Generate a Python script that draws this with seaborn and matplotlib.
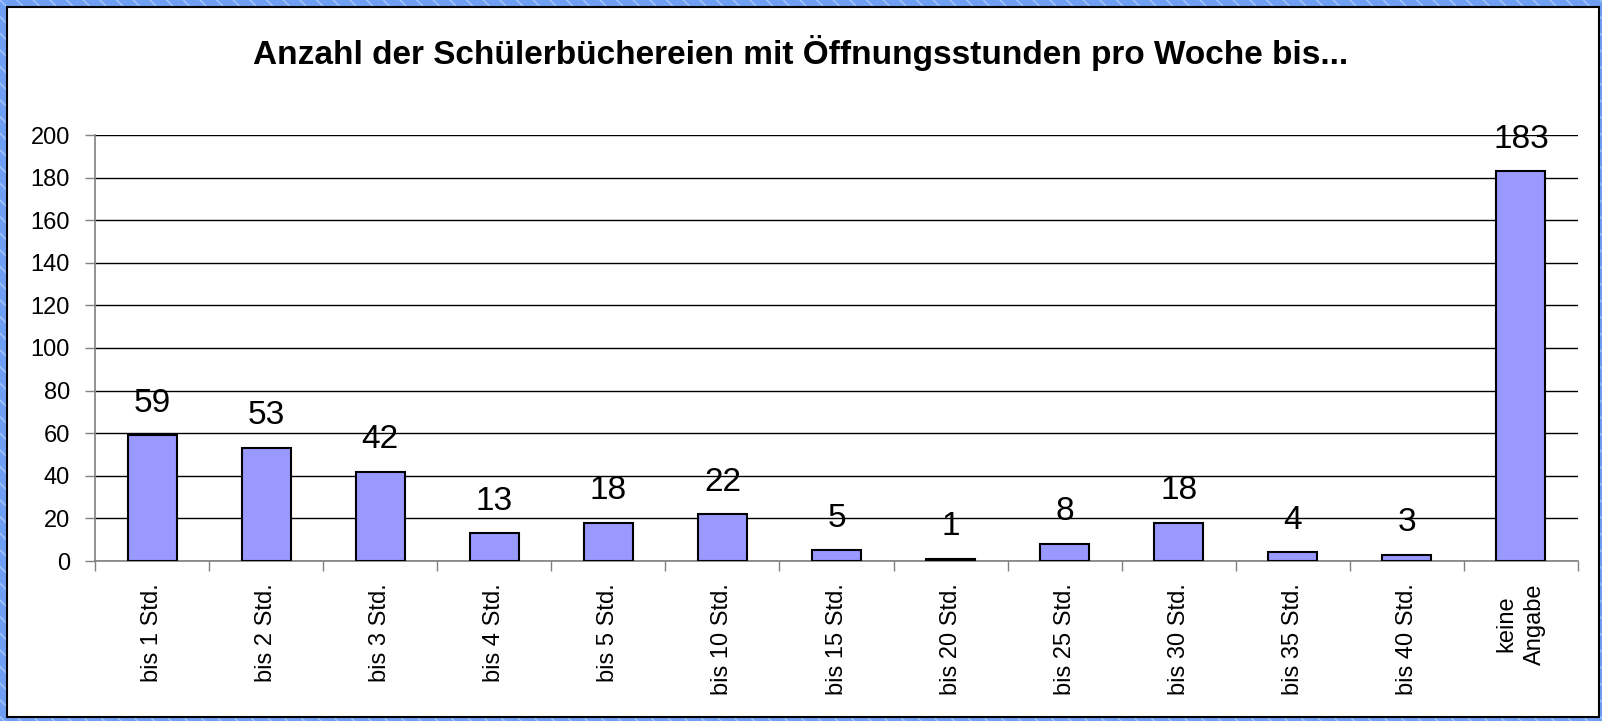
import pandas as pd
import matplotlib.pyplot as plt
import seaborn as sns
from matplotlib.patches import Rectangle

# --- DATEN ---
kategorien = ['bis 1 Std.', 'bis 2 Std.', 'bis 3 Std.', 'bis 4 Std.', 'bis 5 Std.',
              'bis 10 Std.', 'bis 15 Std.', 'bis 20 Std.', 'bis 25 Std.', 'bis 30 Std.',
              'bis 35 Std.', 'bis 40 Std.', 'keine\nAngabe']
anzahl = [59, 53, 42, 13, 18, 22, 5, 1, 8, 18, 4, 3, 183]
y_ticks = [0, 20, 40, 60, 80, 100, 120, 140, 160, 180, 200]

df = pd.DataFrame({'Kategorie': kategorien, 'Anzahl': anzahl})

sns.set_theme(style="white")
plt.rcParams['font.family'] = ['Liberation Sans', 'DejaVu Sans']
plt.rcParams['text.color'] = 'black'
plt.rcParams['xtick.color'] = 'black'
plt.rcParams['ytick.color'] = 'black'

fig = plt.figure(figsize=(16.02, 7.21), dpi=100)
fig.patch.set_facecolor('#6f9ff5')

# Hintergrund: diagonale Schraffur + weisses Feld mit Rahmen
bg = Rectangle((0, 0), 1, 1, transform=fig.transFigure, facecolor='#6f9ff5',
               edgecolor='#a8c8fb', hatch='\\\\', linewidth=0, zorder=-3)
fig.patches.append(bg)
panel = Rectangle((7 / 1602, 4 / 721), 1592 / 1602, 710 / 721, transform=fig.transFigure,
                  facecolor='white', edgecolor='black', linewidth=1.5, zorder=-2)
fig.patches.append(panel)

ax = fig.add_axes([95 / 1602, 1 - 561 / 721, 1483 / 1602, 426 / 721])
ax.set_facecolor('none')

sns.barplot(data=df, x='Kategorie', y='Anzahl', color='#9999ff', width=0.43,
            edgecolor='black', linewidth=1.5, saturation=1, ax=ax, zorder=3)

ax.set_ylim(0, 200)
ax.set_xlim(-0.5, len(kategorien) - 0.5)
ax.set_yticks(y_ticks)
ax.yaxis.grid(True, color='black', linewidth=1)
ax.set_axisbelow(True)

# Werte über den Balken
for i, v in enumerate(anzahl):
    ax.annotate(str(v), (i, v), xytext=(0, 17), textcoords='offset points',
                ha='center', va='baseline', fontsize=24, zorder=4, annotation_clip=False)

# Achsen
for s in ['top', 'right']:
    ax.spines[s].set_visible(False)
for s in ['left', 'bottom']:
    ax.spines[s].set_color('#808080')
    ax.spines[s].set_linewidth(1.2)

ax.set_xticks([i + 0.5 for i in range(-1, len(kategorien))], minor=True)
ax.set_xticks(range(len(kategorien)))
ax.set_xticklabels(kategorien, rotation=90, fontsize=17, va='top', ha='center',
                   multialignment='center', linespacing=1.4)
ax.tick_params(axis='x', which='major', length=0, pad=16)
ax.tick_params(axis='x', which='minor', length=7, width=1, color='#808080', direction='out', bottom=True)
ax.tick_params(axis='y', labelsize=17, length=7, width=1, color='#808080', direction='out', left=True, pad=11)
ax.set_xlabel('')
ax.set_ylabel('')

fig.text(0.5, 1 - 53 / 721, 'Anzahl der Schülerbüchereien mit Öffnungsstunden pro Woche bis...',
         ha='center', va='center', fontsize=24, fontweight='bold')

plt.savefig('out.png', dpi=100, facecolor=fig.get_facecolor())
plt.close()
